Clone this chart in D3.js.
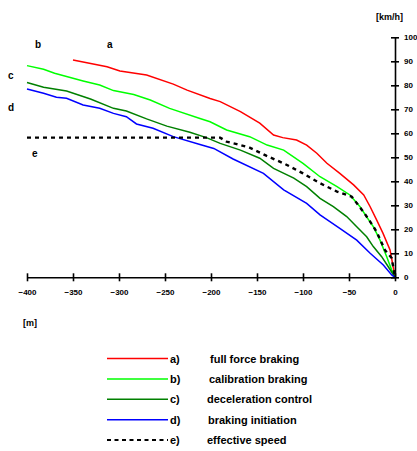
<!DOCTYPE html>
<html>
<head>
<meta charset="utf-8">
<script src="https://cdn.jsdelivr.net/npm/d3@7"></script>
<style>
  body { margin: 0; background: #fff; }
  svg text { font-family: "Liberation Sans", Arial, sans-serif; font-weight: bold; fill: #000; }
</style>
</head>
<body>
<svg></svg>
<script>
// distance before stop [m] and speed [km/h]
var fullForce = [[-350,90.5],[-313,87.7],[-299,86],[-270,84.3],[-241,80.5],[-226,78],[-201,74.5],[-190,73.2],[-168,69],[-147,64.2],[-132,59.3],[-122,58.2],[-107,57.2],[-96,55.1],[-85,51.7],[-74,47.5],[-60,43.3],[-45,38.5],[-34,34.3],[-27,29.4],[-20,23.9],[-13,18.3],[-5.4,11.4],[-2,4.4],[0,0]];
var calibration = [[-400,88.2],[-382,86.7],[-370,85],[-339,81.8],[-321,80.1],[-306,77.8],[-284,76.2],[-266,73.9],[-245,70.4],[-212,66.2],[-201,64.8],[-183,61.4],[-158,58.6],[-139,55.1],[-121,53],[-100,47.5],[-81.5,41.9],[-63,37.8],[-49,34.3],[-38,29.4],[-31,25.3],[-23.6,21.1],[-16.3,15.5],[-9,8.6],[-3.6,3],[0,0]];
var deceleration = [[-400,81.2],[-382,79.2],[-357,77.6],[-331,74.3],[-306,70.4],[-292,69.3],[-270,66],[-248,63],[-223,60.4],[-205,58.2],[-190,55.8],[-168,53],[-147,49.6],[-132,45.4],[-110,41.3],[-96,37.8],[-81.5,32.9],[-67,29.4],[-52.5,25.3],[-41.6,21.1],[-30.8,16.9],[-23.6,12.8],[-14.5,8.6],[-7.3,4.4],[0,0]];
var initiation = [[-400,78.5],[-382,76.7],[-368,75],[-357,74.6],[-339,71.8],[-321,70.4],[-306,68.3],[-292,66.9],[-281,63.9],[-263,62.1],[-241,58.6],[-212,55.3],[-197,53.7],[-176,49.3],[-143,43.3],[-121,36.4],[-96,30.8],[-81.5,26],[-60,20.4],[-41.6,15.5],[-27,10],[-12.7,5.1],[-3.6,1],[0,0]];
var effective = [[-400,58.2],[-190,58.2],[-183,56.5],[-172,55.5],[-158,54],[-139.5,50.6],[-119.5,47.2],[-100,43.3],[-81.5,39.2],[-63,35.7],[-47,33.6],[-34.4,27.3],[-27,23.2],[-20,19],[-11,11.4],[-3.6,8],[0,0]];

var seriesKeys = ['a)', 'b)', 'c)', 'd)', 'e)'];
var seriesNames = ['full force braking', 'calibration braking', 'deceleration control', 'braking initiation', 'effective speed'];
var seriesColors = ['#ff0000', '#00ff00', '#008000', '#0000ff', '#000000'];
var seriesData = [fullForce, calibration, deceleration, initiation, effective];
var curveLetters = ['a', 'b', 'c', 'd', 'e'];
var xTicks = [-400, -350, -300, -250, -200, -150, -100, -50, 0];
var yTicks = [0, 10, 20, 30, 40, 50, 60, 70, 80, 90, 100];

var width = 417;
var height = 451;
var svg = d3.select('svg')
            .attr('width', width)
            .attr('height', height);

var xScale = d3.scaleLinear().domain([-400, 0]).range([27, 395]);
var yScale = d3.scaleLinear().domain([0, 100]).range([277.3, 37.3]);

var line = d3.line()
             .x(d => xScale(d[0]))
             .y(d => yScale(d[1]));

// curves
seriesData.forEach(function(s, i) {
  svg.append('path')
     .datum(s)
     .attr('d', line)
     .attr('fill', 'none')
     .attr('stroke', seriesColors[i])
     .attr('stroke-width', i === 4 ? 2.4 : 1.5)
     .attr('stroke-dasharray', i === 4 ? '4,4' : null);
});

// x axis
var xAxis = svg.append('g')
    .attr('transform', `translate(0, ${yScale(0)})`)
    .call(d3.axisBottom(xScale).tickValues(xTicks).tickSize(0).tickSizeOuter(0).tickPadding(12));
xAxis.select('.domain').attr('stroke-width', 1.6);
xAxis.selectAll('.tick line').attr('y1', -4).attr('y2', 4).attr('stroke-width', 1.6);
xAxis.selectAll('.tick text')
     .style('font-size', '8px')
     .style('font-family', '"Liberation Sans", Arial, sans-serif')
     .style('font-weight', 'bold');

// y axis
var yAxis = svg.append('g')
    .attr('transform', `translate(${xScale(0)}, 0)`)
    .call(d3.axisRight(yScale).tickValues(yTicks).tickSize(0).tickSizeOuter(0).tickPadding(9));
yAxis.select('.domain').attr('stroke-width', 1.6);
yAxis.selectAll('.tick line').attr('x1', -4).attr('x2', 4).attr('stroke-width', 1.6);
yAxis.selectAll('.tick text')
     .style('font-size', '8px')
     .style('font-family', '"Liberation Sans", Arial, sans-serif')
     .style('font-weight', 'bold');

// units
svg.append('text').attr('x', 376).attr('y', 20).style('font-size', '9px').text('[km/h]');
svg.append('text').attr('x', 23).attr('y', 326).style('font-size', '9px').text('[m]');

// curve letters
var letterPos = [[107, 48], [35, 48], [8, 79], [8, 111], [32, 157]];
curveLetters.forEach(function(l, i) {
  svg.append('text')
     .attr('x', letterPos[i][0])
     .attr('y', letterPos[i][1])
     .style('font-size', '10px')
     .text(l);
});

// legend
var legend = svg.selectAll('.legend')
    .data(seriesKeys)
    .enter()
    .append('g')
      .attr('class', 'legend')
      .attr('transform', (d, i) => `translate(0, ${358.5 + i * 20.4})`);

legend.append('line')
      .attr('x1', 107).attr('x2', 168)
      .attr('stroke', (d, i) => seriesColors[i])
      .attr('stroke-width', (d, i) => i === 4 ? 2 : 1.5)
      .attr('stroke-dasharray', (d, i) => i === 4 ? '4,3.5' : null);

legend.append('text')
      .attr('x', 170)
      .attr('y', 4)
      .style('font-size', '11px')
      .text(d => d);

legend.append('text')
      .attr('x', (d, i) => [210, 209, 207, 208, 207][i])
      .attr('y', 4)
      .style('font-size', '11px')
      .text((d, i) => seriesNames[i]);
</script>
</body>
</html>
